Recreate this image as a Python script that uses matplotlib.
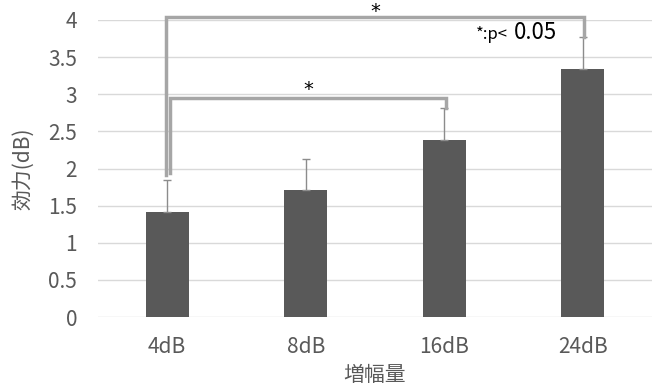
import matplotlib.pyplot as plt
import numpy as np

plt.rcParams['font.family'] = ['Noto Sans CJK JP', 'DejaVu Sans']

categories = ['4dB', '8dB', '16dB', '24dB']
means = [1.41, 1.71, 2.38, 3.34]
errors = [0.43, 0.42, 0.43, 0.43]

# significance brackets: (left x, right x, left bottom, right bottom, top, star y)
brackets = [
    (-0.01, 3.01, 1.91, 3.77, 4.04, 4.11),
    (0.02, 2.01, 1.94, 2.81, 2.95, 3.06),
]
sig_label = '*'

fig = plt.figure(figsize=(6.6, 3.89), dpi=100)
ax = fig.add_axes([98 / 660, 1 - 317 / 389, (652 - 98) / 660, (317 - 20) / 389])

x = np.arange(len(categories))
ax.bar(x, means, width=0.31, color='#595959', zorder=3)
ax.errorbar(x, means, yerr=[np.zeros(len(errors)), errors], fmt='none',
            ecolor='#8c8c8c', elinewidth=1, capsize=3, capthick=1, zorder=4)

ax.set_xlim(-0.5, len(categories) - 0.5)
ax.set_ylim(0, 4)
ax.set_yticks(np.arange(0, 4.01, 0.5))
ax.set_yticklabels(['0', '0.5', '1', '1.5', '2', '2.5', '3', '3.5', '4'])
ax.set_xticks(x)
ax.set_xticklabels(categories)
ax.yaxis.grid(True, color='#d9d9d9', linewidth=1, zorder=0)
ax.set_axisbelow(True)
for s in ax.spines.values():
    s.set_visible(False)
ax.tick_params(length=0, labelsize=15, colors='#595959')
ax.tick_params(axis='y', pad=15)
ax.tick_params(axis='x', pad=14)

ax.set_ylabel('効力(dB)', fontsize=15, color='#595959', labelpad=10)
ax.set_xlabel('増幅量', fontsize=15, color='#595959', labelpad=4)

for xl, xr, yl, yr, top, sy in brackets:
    ax.plot([xl, xl, xr, xr], [yl, top, top, yr], color='#a6a6a6',
            linewidth=2.5, solid_joinstyle='miter', clip_on=False, zorder=5)
    ax.text((xl + xr) / 2, sy, sig_label, ha='center', va='center',
            fontsize=14, color='black', family='DejaVu Sans', clip_on=False)

ax.text(2.23, 3.81, '*:p<', ha='left', va='center', fontsize=12, color='black')
ax.text(2.50, 3.83, '0.05', ha='left', va='center', fontsize=16, color='black')

fig.savefig('out.png', dpi=100)
